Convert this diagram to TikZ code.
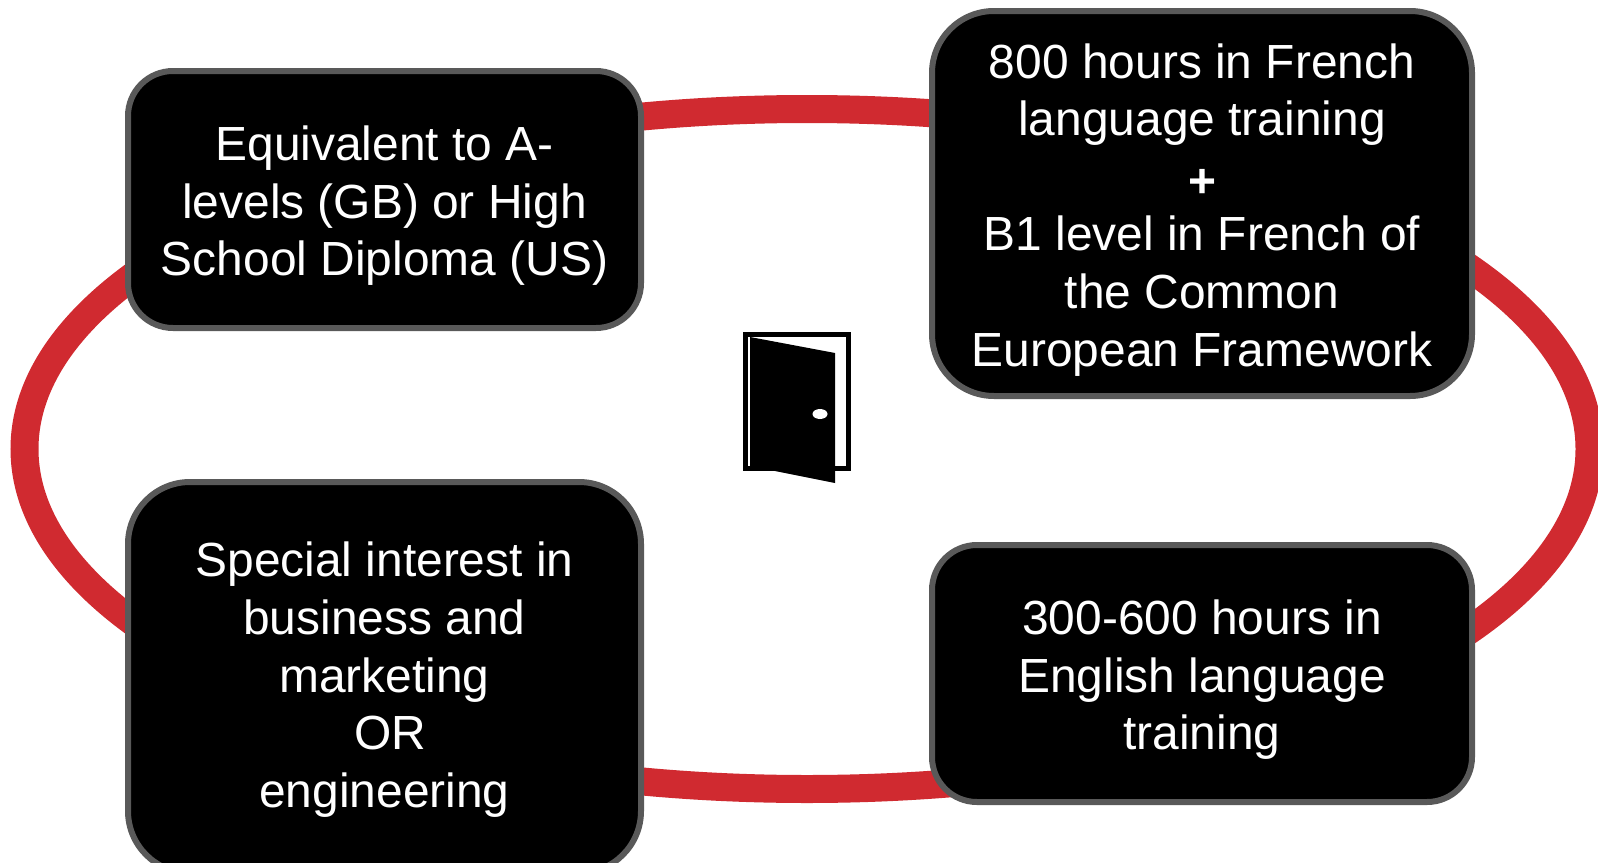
\documentclass[tikz,border=0pt]{standalone}
\usepackage{fontspec}
\setmainfont{Liberation Sans}
\usetikzlibrary{shapes.geometric}
\definecolor{ringred}{HTML}{D02A30}
\definecolor{edgegrey}{HTML}{595959}
\newcommand{\firstline}[1]{\rule{0pt}{#1pt}}
\tikzset{
  x=1pt,y=-1pt,
  ring/.style={ellipse,draw=ringred,line width=28pt,minimum width=1565pt,minimum height=680pt,inner sep=0pt,outer sep=0pt},
  card/.style={rectangle,draw=edgegrey,fill=black,line width=6pt,text=white,align=center,inner sep=0pt,outer sep=0pt,
    font=\fontsize{47.9pt}{57.6pt}\selectfont},
  small corners/.style={rounded corners=45pt},
  big corners/.style={rounded corners=62pt},
}
\begin{document}
\begin{tikzpicture}
\useasboundingbox (0,0) rectangle (1598,862);
\node[ring] (loop) at (807,449) {};
\node[card,small corners,minimum width=513pt,minimum height=257pt] (alevels) at (384.5,199.5)
  {\firstline{47}Equivalent to A-\\levels (GB) or High\\School Diploma (US)};
\node[card,big corners,minimum width=540pt,minimum height=385pt] (french) at (1202,203.5)
  {\firstline{47}800 hours in French\\language training\\\raisebox{-4pt}{\textbf{+}}\\B1 level in French of\\the Common\\European Framework};
\node[card,big corners,minimum width=513pt,minimum height=391pt] (interest) at (384.5,677.5)
  {\firstline{39}Special interest in\\business and\\marketing\\\hspace*{12pt}OR\\engineering};
\node[card,small corners,minimum width=540pt,minimum height=257pt] (english) at (1202,673.5)
  {\firstline{47}300-600 hours in\\English language\\training};
% door
\node[rectangle,draw=black,line width=5pt,minimum width=103pt,minimum height=134pt,inner sep=0pt,outer sep=0pt] (frame) at (797,401.5) {};
\fill[black] (750,337) -- (835,353) -- (835,483) -- (775,471) -- (753,467) -- (750,467) -- cycle;
\fill[white] (820,414) ellipse [x radius=7.5,y radius=5];
\end{tikzpicture}
\end{document}
